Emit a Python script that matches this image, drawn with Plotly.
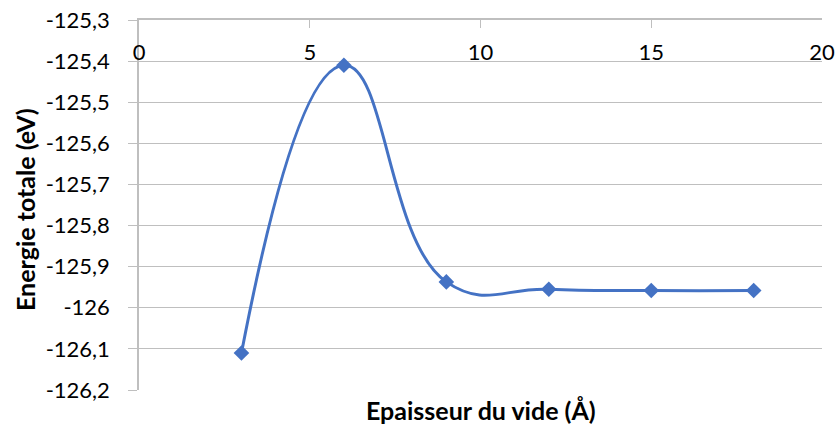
import plotly.graph_objects as go

# Data
thickness = [3, 6, 9, 12, 15, 18]
energy = [-126.11, -125.41, -125.937, -125.955, -125.958, -125.958]

x_ticks = [0, 5, 10, 15, 20]
x_ticklabels = ["0", "5", "10", "15", "20"]
y_ticks = [-125.3, -125.4, -125.5, -125.6, -125.7, -125.8, -125.9, -126.0, -126.1, -126.2]
y_ticklabels = ["-125,3", "-125,4", "-125,5", "-125,6", "-125,7", "-125,8", "-125,9", "-126", "-126,1", "-126,2"]

COLOR = "#4472C4"
AXIS = "#BFBFBF"
FONT = "Lato, Carlito, Calibri, sans-serif"

fig = go.Figure()
fig.add_trace(go.Scatter(
    x=thickness, y=energy, mode="lines",
    line=dict(color=COLOR, width=3, shape="spline", smoothing=1.3),
    hoverinfo="skip", showlegend=False,
))
fig.add_trace(go.Scatter(
    x=thickness, y=energy, mode="markers", xaxis="x2", yaxis="y",
    marker=dict(symbol="diamond", size=12, color=COLOR),
    showlegend=False,
))

fig.update_layout(
    width=835, height=426,
    margin=dict(l=139, r=13, t=20, b=36),
    paper_bgcolor="white", plot_bgcolor="white",
    font=dict(family=FONT, size=22, color="#000000"),
    xaxis=dict(
        range=[0, 20], side="top", tickvals=x_ticks, showticklabels=False,
        showline=True, linecolor=AXIS, linewidth=1.5,
        ticks="inside", ticklen=8, tickcolor=AXIS,
        showgrid=False, zeroline=False, automargin=False,
    ),
    xaxis2=dict(
        range=[0, 20], overlaying="x", anchor="free", position=0.955,
        side="bottom", tickvals=x_ticks, ticktext=x_ticklabels,
        showline=False, ticks="", showgrid=False, zeroline=False, automargin=False,
    ),
    yaxis=dict(
        range=[-126.2, -125.3], tickvals=y_ticks, ticktext=y_ticklabels,
        showline=True, linecolor=AXIS, linewidth=1.5,
        ticks="outside", ticklen=9, tickcolor=AXIS,
        showgrid=True, gridcolor=AXIS, gridwidth=1.2, zeroline=False,
        ticklabelstandoff=14, automargin=False,
    ),
    annotations=[
        dict(
            text="<b>Epaisseur du vide (Å)</b>", xref="paper", yref="paper",
            x=0.5, y=0, yshift=-20, xanchor="center", yanchor="middle", showarrow=False,
            font=dict(size=25),
        ),
        dict(
            text="<b>Energie totale (eV)</b>", xref="paper", yref="paper",
            x=0, y=0.5, xshift=-114, yshift=-5, xanchor="center", yanchor="middle",
            showarrow=False, textangle=-90, font=dict(size=25),
        ),
    ],
)

fig.write_html("out.html", config={"displayModeBar": False},
               post_script="document.body.style.margin='0';")
